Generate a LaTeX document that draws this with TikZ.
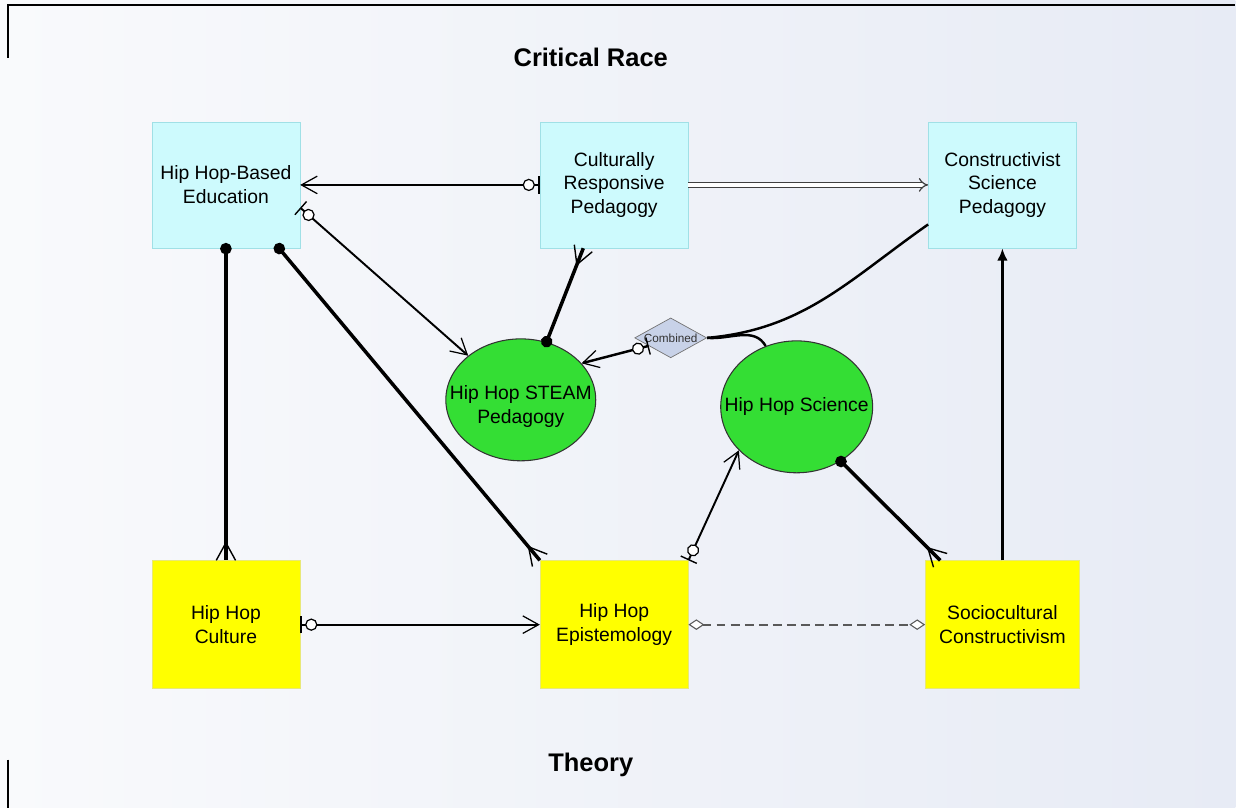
\documentclass[tikz,border=0pt]{standalone}
\usepackage{fontspec}
\setmainfont{Liberation Sans}
\usepackage{tikz}
\usetikzlibrary{shapes.geometric, arrows.meta, positioning}

\definecolor{boxcyan}{RGB}{205,250,253}
\definecolor{edgecyan}{RGB}{160,224,230}
\definecolor{boxyellow}{RGB}{255,255,0}
\definecolor{edgeyellow}{RGB}{232,232,120}
\definecolor{blobgreen}{RGB}{52,222,52}
\definecolor{combfill}{RGB}{200,210,232}
\definecolor{bgleft}{RGB}{249,250,252}
\definecolor{bgright}{RGB}{231,235,245}

% crow's foot, the line runs on to the end
\pgfdeclarearrow{
  name = Crow,
  parameters = {\the\pgfarrowlength,\the\pgfarrowwidth,\the\pgfarrowlinewidth},
  defaults = {length=10pt, width=11pt},
  setup code = {
    \pgfarrowssettipend{0pt}
    \pgfarrowssetlineend{0pt}
    \pgfarrowssetbackend{-\pgfarrowlength}
    \pgfarrowssavethe\pgfarrowlength
    \pgfarrowssavethe\pgfarrowwidth
  },
  drawing code = {
    \pgfsetlinewidth{\pgfarrowlinewidth}
    \pgfpathmoveto{\pgfpoint{-\pgfarrowlength}{0pt}}
    \pgfpathlineto{\pgfpoint{0pt}{.5\pgfarrowwidth}}
    \pgfpathmoveto{\pgfpoint{-\pgfarrowlength}{0pt}}
    \pgfpathlineto{\pgfpoint{0pt}{-.5\pgfarrowwidth}}
    \pgfusepathqstroke
  }
}

\tikzset{
  openhead/.tip={Straight Barb[length=9pt, width=10pt, line width=0.7pt]},
  crowfoot/.tip={Crow[length=10pt, width=11pt, line width=0.8pt]},
  ball/.tip={Circle[length=6.5pt]},
  zeroone/.tip={Circle[length=7pt, fill=white, line width=0.7pt, sep=2pt] Bar[width=10pt, line width=0.8pt]},
}

\tikzstyle{tcell} = [rectangle, draw=edgecyan, fill=boxcyan, minimum width=2.96cm, minimum height=2.52cm, align=center, font=\fontsize{11}{13.6}\selectfont]
\tikzstyle{bcell} = [rectangle, draw=edgeyellow, fill=boxyellow, minimum width=2.96cm, minimum height=2.56cm, align=center, font=\fontsize{11}{13.6}\selectfont]
\tikzstyle{blob} = [ellipse, draw=black!80, line width=0.6pt, fill=blobgreen, inner sep=0pt]
\tikzstyle{combo} = [diamond, draw=black!55, fill=combfill, aspect=1.8, inner sep=0pt, minimum width=41pt, minimum height=22.7pt, text=black!80, font=\fontsize{6.7}{8}\selectfont]
\tikzstyle{heavy} = [draw, line width=2pt]
\tikzstyle{link} = [draw, line width=1.4pt]
\tikzstyle{lite} = [draw, line width=1.1pt]

\begin{document}
\begin{tikzpicture}[x=0.02cm, y=-0.02cm, node distance=7.77cm]
    \shade[left color=bgleft, right color=bgright] (0,0) rectangle (1236,808);
    \draw[line width=0.6pt] (8,58) -- (8,5) -- (1236,5);
    \draw[line width=0.6pt] (8,760) -- (8,808);

    \node[font=\bfseries\fontsize{14.5}{17}\selectfont] (crt) at (591,57) {Critical Race};
    \node[font=\bfseries\fontsize{14.5}{17}\selectfont] (theory) at (591,765) {Theory};

    \node[tcell] (hhbe) at (226,185) {Hip Hop-Based\\Education};
    \node[tcell, right of=hhbe] (crp) {Culturally\\Responsive\\Pedagogy};
    \node[tcell, right of=crp] (cons) {Constructivist\\Science\\Pedagogy};
    \node[bcell, below of=hhbe, node distance=8.8cm] (culture) {Hip Hop\\Culture};
    \node[bcell, below of=crp, node distance=8.8cm] (epi) {Hip Hop\\Epistemology};
    \node[bcell, below of=cons, node distance=8.8cm, minimum width=3.08cm] (socio) {Sociocultural\\Constructivism};

    \node[blob, minimum width=3cm, minimum height=2.44cm,
          label={[align=center, font=\fontsize{11}{13.6}\selectfont, yshift=-4pt]center:Hip Hop STEAM\\Pedagogy}] (steam) at (521,400) {};
    \node[blob, minimum width=3.04cm, minimum height=2.64cm,
          label={[font=\fontsize{11}{13.6}\selectfont]center:Hip Hop Science}] (science) at (797,407) {};
    \node[combo] (comb) at (671,338) {Combined};

    % top row
    \path[link, {zeroone}-{openhead}] (crp.west) -- (hhbe.east);
    \path[draw=black!75, line width=0.7pt, double=white, double distance=2pt, -{Implies[length=7pt, width=13pt]}] (crp.east) -- (cons.west);

    % from hip hop-based education
    \path[lite, {zeroone}-{openhead}] (hhbe.-17) -- (steam.140);
    \path[heavy, {ball}-{crowfoot}, shorten <=-3pt] (hhbe.south) -- (culture.north);
    \path[heavy, {ball}-{crowfoot}, shorten <=-3pt] (hhbe.-50) -- (epi.north west);
    \path[heavy, {crowfoot}-{ball}, shorten >=-3pt] (crp.244) -- (steam.66);

    % combined
    \path[link] (cons.208) to[out=215, in=5] (comb.east);
    \path[link] (comb.east) to[out=-5, in=120] (science.117);
    \path[link, {zeroone}-{openhead}] (comb.200) -- (steam.31);

    % bottom row
    \path[lite, {zeroone}-{openhead}] (epi.north east) -- (science.217);
    \path[heavy, {ball}-{crowfoot}, shorten <=-3pt] (science.-51) -- (socio.134);
    \path[link, -{Latex[length=7pt, width=6pt]}] (socio.north) -- (cons.south);
    \path[lite, {zeroone}-{openhead}] (culture.east) -- (epi.west);
    \path[draw=black!65, line width=1pt, dash pattern=on 5pt off 3pt,
          {Diamond[length=9pt, width=6pt, fill=white, line width=0.6pt]}-{Diamond[length=9pt, width=6pt, fill=white, line width=0.6pt]}] (epi.east) -- (socio.west);
\end{tikzpicture}
\end{document}
